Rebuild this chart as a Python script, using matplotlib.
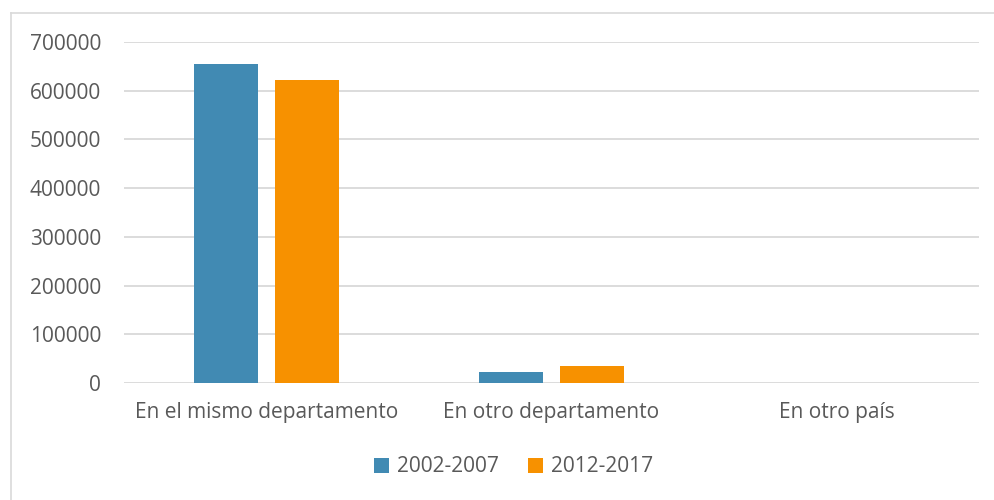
import matplotlib.pyplot as plt
import numpy as np

# data
categories = ["En el mismo departamento", "En otro departamento", "En otro país"]
series_names = ["2002-2007", "2012-2017"]
values_2002 = [655000, 23000, 0]
values_2012 = [622000, 34500, 0]
y_ticks = [0, 100000, 200000, 300000, 400000, 500000, 600000, 700000]

colors = ["#418AB3", "#F79100"]
text_color = "#595959"
grid_color = "#D9D9D9"

plt.rcParams['font.family'] = ['Open Sans', 'DejaVu Sans']

fig = plt.figure(figsize=(9.95, 5), dpi=100)
# plot area in pixels: x 124..979, y 42..383
ax = fig.add_axes([124 / 995, 1 - 383 / 500, 855 / 995, 341 / 500])

x = np.arange(len(categories))
w = 0.225
off = 0.142
ax.bar(x - off, values_2002, width=w, color=colors[0], label=series_names[0], zorder=3)
ax.bar(x + off, values_2012, width=w, color=colors[1], label=series_names[1], zorder=3)

ax.set_xlim(-0.5, len(categories) - 0.5)
ax.set_ylim(0, 700000)
ax.set_yticks(y_ticks)
ax.set_yticklabels([str(v) for v in y_ticks])
ax.set_xticks(x)
ax.set_xticklabels(categories)
ax.tick_params(axis='both', length=0, labelsize=15, colors=text_color)
ax.tick_params(axis='x', pad=14)
ax.tick_params(axis='y', pad=16.5)
ax.grid(axis='y', color=grid_color, linewidth=1.3, zorder=0)
for s in ax.spines.values():
    s.set_visible(False)

leg = fig.legend(loc='center', bbox_to_anchor=(514 / 995, 1 - 467 / 500), ncol=2,
                 frameon=False, fontsize=15, handlelength=0.7, handleheight=0.7,
                 handletextpad=0.4, columnspacing=1.4)
for t in leg.get_texts():
    t.set_color(text_color)

# outer chart border (left and top visible in the reference)
fig.add_artist(plt.Line2D([11 / 995, 11 / 995], [0, 1 - 13 / 500],
                          transform=fig.transFigure, color=grid_color, linewidth=1.2))
fig.add_artist(plt.Line2D([11 / 995, 1], [1 - 13 / 500, 1 - 13 / 500],
                          transform=fig.transFigure, color=grid_color, linewidth=1.2))

fig.savefig("out.png", dpi=100)
